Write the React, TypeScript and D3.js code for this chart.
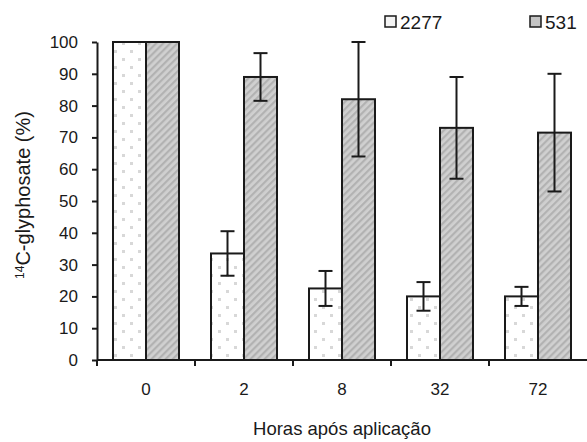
import { useEffect, useRef } from 'react'
import * as d3 from 'd3'

// chart values
const hours = ['0', '2', '8', '32', '72']
const seriesNames = ['2277', '531']
const values2277 = [100, 33.5, 22.5, 20, 20]
const errors2277 = [0, 7, 5.5, 4.5, 3]
const values531 = [100, 89, 82, 73, 71.5]
const errors531 = [0, 7.5, 18, 16, 18.5]
const yTicks = [0, 10, 20, 30, 40, 50, 60, 70, 80, 90, 100]

function App() {
  const ref = useRef<SVGSVGElement>(null)

  useEffect(() => {
    const svg = d3.select(ref.current)
    svg.selectAll('*').remove()
    const font = 'Liberation Sans, Arial, sans-serif'

    // patterns
    const defs = svg.append('defs')
    const dots = defs.append('pattern')
      .attr('id', 'dots').attr('patternUnits', 'userSpaceOnUse')
      .attr('width', 16).attr('height', 16)
    dots.append('rect').attr('width', 16).attr('height', 16).attr('fill', '#fff')
    dots.append('rect').attr('x', 2).attr('y', 2).attr('width', 3).attr('height', 3).attr('fill', '#d8d8d8')
    dots.append('rect').attr('x', 10).attr('y', 10).attr('width', 3).attr('height', 3).attr('fill', '#d8d8d8')

    const hatch = defs.append('pattern')
      .attr('id', 'hatch').attr('patternUnits', 'userSpaceOnUse')
      .attr('width', 5).attr('height', 5)
      .attr('patternTransform', 'rotate(45)')
    hatch.append('rect').attr('width', 5).attr('height', 5).attr('fill', '#d0d0d0')
    hatch.append('rect').attr('width', 2.2).attr('height', 5).attr('fill', '#b2b2b2')

    const x0 = d3.scaleBand().domain(hours).range([97, 587]).padding(0)
    const x1 = d3.scaleBand().domain(seriesNames).range([0, x0.bandwidth()]).paddingInner(0).paddingOuter(0.485)
    const y = d3.scaleLinear().domain([0, 100]).range([360, 42])

    const series = [
      { name: '2277', vals: values2277, errs: errors2277, fill: 'url(#dots)' },
      { name: '531', vals: values531, errs: errors531, fill: 'url(#hatch)' },
    ]

    // bars
    series.forEach(s => {
      svg.append('g').selectAll('rect')
        .data(hours)
        .enter()
        .append('rect')
        .attr('x', (d) => (x0(d) as number) + (x1(s.name) as number))
        .attr('y', (d, i) => y(s.vals[i]))
        .attr('width', x1.bandwidth())
        .attr('height', (d, i) => y(0) - y(s.vals[i]))
        .attr('fill', s.fill)
        .attr('stroke', '#1a1a1a')
        .attr('stroke-width', 2)
    })

    // error bars
    series.forEach(s => {
      const g = svg.append('g').attr('stroke', '#1a1a1a').attr('stroke-width', 2)
      hours.forEach((h, i) => {
        if (!s.errs[i]) return
        const cx = (x0(h) as number) + (x1(s.name) as number) + x1.bandwidth() / 2
        const top = y(s.vals[i] + s.errs[i])
        const bot = y(s.vals[i] - s.errs[i])
        g.append('line').attr('x1', cx).attr('x2', cx).attr('y1', top).attr('y2', bot)
        g.append('line').attr('x1', cx - 7).attr('x2', cx + 7).attr('y1', top).attr('y2', top)
        g.append('line').attr('x1', cx - 7).attr('x2', cx + 7).attr('y1', bot).attr('y2', bot)
      })
    })

    // y axis
    const yAxis = svg.append('g')
      .attr('transform', 'translate(97,0)')
      .call(d3.axisLeft(y).tickValues(yTicks).tickSize(5).tickSizeOuter(0))
    yAxis.select('.domain').attr('stroke', '#1a1a1a').attr('stroke-width', 2)
    yAxis.selectAll('.tick line').attr('stroke', '#1a1a1a').attr('stroke-width', 2)
    yAxis.selectAll('.tick text')
      .attr('x', -19)
      .style('font', `17px ${font}`).attr('fill', '#1a1a1a')

    // x axis
    const xAxis = svg.append('g').attr('transform', 'translate(0,360)')
    xAxis.append('line').attr('x1', 97).attr('x2', 587).attr('y1', 0).attr('y2', 0)
      .attr('stroke', '#1a1a1a').attr('stroke-width', 2)
    xAxis.selectAll('line.tk')
      .data(hours)
      .enter()
      .append('line')
      .attr('class', 'tk')
      .attr('x1', d => x0(d) as number).attr('x2', d => x0(d) as number)
      .attr('y1', 0).attr('y2', 6)
      .attr('stroke', '#1a1a1a').attr('stroke-width', 2)
    xAxis.selectAll('text')
      .data(hours)
      .enter()
      .append('text')
      .attr('x', d => (x0(d) as number) + x0.bandwidth() / 2)
      .attr('y', 35)
      .attr('text-anchor', 'middle')
      .style('font', `17px ${font}`).attr('fill', '#1a1a1a')
      .text(d => d)

    // axis titles
    svg.append('text')
      .attr('x', 342).attr('y', 435)
      .attr('text-anchor', 'middle')
      .style('font', `18.5px ${font}`).attr('fill', '#1a1a1a')
      .text('Horas após aplicação')

    const yt = svg.append('text')
      .attr('transform', 'translate(30,195)rotate(-90)')
      .attr('text-anchor', 'middle')
      .style('font', `20px ${font}`).attr('fill', '#1a1a1a')
    yt.append('tspan').attr('font-size', 12).attr('dy', -6).text('14')
    yt.append('tspan').attr('dy', 6).text('C-glyphosate (%)')

    // legend
    const legendX = [385, 530]
    series.forEach((s, i) => {
      svg.append('rect')
        .attr('x', legendX[i]).attr('y', 16).attr('width', 11).attr('height', 11)
        .attr('fill', i === 0 ? '#f4f4f4' : '#c4c4c4')
        .attr('stroke', '#1a1a1a').attr('stroke-width', 1.5)
      svg.append('text')
        .attr('x', legendX[i] + 15).attr('y', 29)
        .style('font', `19px ${font}`).attr('fill', '#1a1a1a')
        .text(s.name)
    })
  }, [])

  return (
    <svg ref={ref} width={587} height={442}
      style={{ position: 'absolute', left: 0, top: 0, background: '#fff' }} />
  )
}

export default App
